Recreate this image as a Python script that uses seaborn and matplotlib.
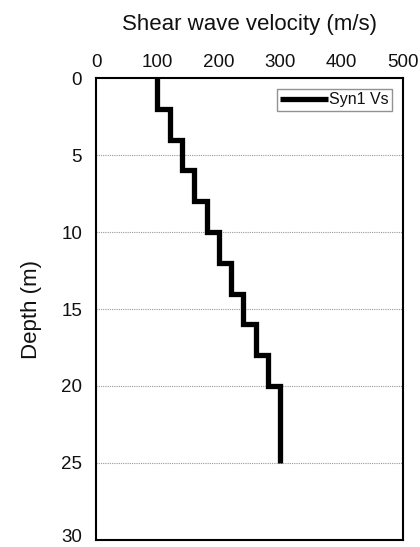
import matplotlib
matplotlib.use("Agg")
import matplotlib.pyplot as plt
import matplotlib.transforms as mtransforms
import seaborn as sns
import pandas as pd

# Layer data
layer_top = [0, 2, 4, 6, 8, 10, 12, 14, 16, 18, 20]
layer_bottom = [2, 4, 6, 8, 10, 12, 14, 16, 18, 20, 25]
vs = [100, 120, 140, 160, 180, 200, 220, 240, 260, 280, 300]
x_ticks = [0, 100, 200, 300, 400, 500]
y_ticks = [0, 5, 10, 15, 20, 25, 30]

# Build step profile from layers
xs, ys = [], []
for t, b, v in zip(layer_top, layer_bottom, vs):
    xs += [v, v]
    ys += [t, b]
df = pd.DataFrame({"Vs": xs, "Depth": ys})

sns.set_style("white")
plt.rcParams['font.family'] = ['Liberation Sans', 'DejaVu Sans']
plt.rcParams['text.color'] = '#111111'
plt.rcParams['xtick.color'] = '#111111'
plt.rcParams['ytick.color'] = '#111111'
plt.rcParams['axes.labelcolor'] = '#111111'

fig = plt.figure(figsize=(4.2, 5.47), dpi=100)
ax = fig.add_axes([0.2286, 0.0128, 0.7309, 0.8446])

sns.lineplot(data=df, x="Vs", y="Depth", sort=False, estimator=None,
             color="black", linewidth=3.8, label="Syn1 Vs", ax=ax,
             solid_joinstyle="miter", solid_capstyle="butt")

ax.set_xlim(0, 500)
ax.set_ylim(30, 0)
ax.set_xticks(x_ticks)
ax.set_yticks(y_ticks)
ax.xaxis.tick_top()
ax.xaxis.set_label_position("top")
ax.tick_params(axis="both", labelsize=13.5, length=0)
ax.tick_params(axis="x", pad=5)
ax.tick_params(axis="y", pad=10)
ax.set_xlabel("Shear wave velocity (m/s)", fontsize=16, labelpad=17.5)
ax.set_ylabel("Depth (m)", fontsize=16, labelpad=14)

# nudge the bottom tick label up slightly so it stays inside the figure
last = ax.get_yticklabels()[-1]
last.set_transform(last.get_transform() +
                   mtransforms.ScaledTranslation(0, 3 / 72, fig.dpi_scale_trans))

for y in y_ticks[1:-1]:
    ax.axhline(y, color="#999999", linestyle=(0, (1, 1)), linewidth=0.8, zorder=0)

for s in ax.spines.values():
    s.set_visible(True)
    s.set_color("black")
    s.set_linewidth(1.5)

leg = ax.legend(loc="upper right", fontsize=11.5, frameon=True, fancybox=False,
                handlelength=3.0, handletextpad=0.05, borderpad=0.2,
                borderaxespad=0.7)
leg.get_frame().set_edgecolor("#777777")
leg.get_frame().set_linewidth(1.0)

fig.savefig("out.png", dpi=100)
